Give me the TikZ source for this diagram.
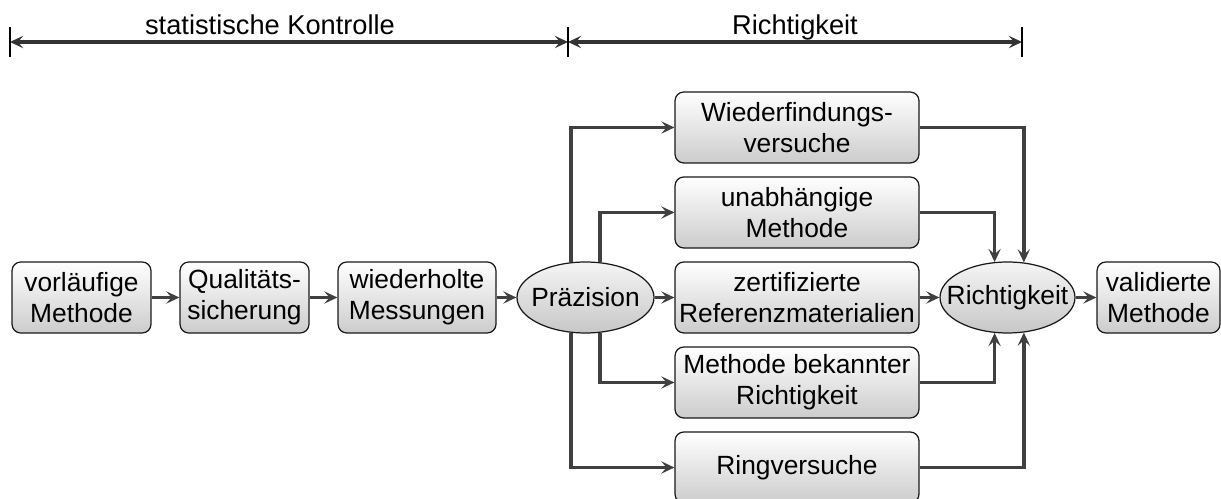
\documentclass[tikz,border=0pt]{standalone}
\usepackage{fontspec}
\setmainfont{Liberation Sans}
\usetikzlibrary{shapes.geometric,arrows.meta}

\begin{document}
\begin{tikzpicture}[x=0.02cm, y=-0.02cm,
	box_node/.style={draw=black!90, line width=0.7pt, rounded corners=5pt, top color=white, bottom color=black!20, align=center, inner sep=1pt, minimum height=1.42cm, font=\fontsize{15}{17.5}\selectfont},
	oval_node/.style={ellipse, draw=black!90, line width=0.7pt, top color=black!4, bottom color=black!22, inner sep=0pt, minimum height=1.42cm, font=\fontsize{15}{17.5}\selectfont},
	conn/.style={draw=black!75, line width=2.1pt, -{Stealth[length=7.5pt,width=7pt,inset=3pt]}},
	dim_line/.style={draw=black!80, line width=2.1pt, {Stealth[length=7.5pt,width=7pt,inset=3pt]}-{Stealth[length=7.5pt,width=7pt,inset=3pt]}},
	head_label/.style={anchor=base, font=\fontsize{15.5}{18}\selectfont}]
	\useasboundingbox (0,0) rectangle (1221,499);

	% top dimension lines
	\coordinate (d0) at (10,42);
	\coordinate (d1) at (568,42);
	\coordinate (d2) at (1022,42);
	\draw[dim_line] (d0) -- (d1);
	\draw[dim_line] (d1) -- (d2);
	\draw[black, line width=0.6pt] (d0) ++(0,-15) -- ++(0,30);
	\draw[black, line width=0.6pt] (d1) ++(0,-15) -- ++(0,30);
	\draw[black, line width=0.6pt] (d2) ++(0,-15) -- ++(0,30);
	\node[head_label] (stat) at (270,35) {statistische Kontrolle};
	\node[head_label] (richtlab) at (795,35) {Richtigkeit};

	% main row
	\node[box_node, minimum width=2.78cm] (vorl) at (81.5,297.5) {vorläufige\\Methode};
	\node[box_node, minimum width=2.58cm] (qual) at (244.5,297.5) {Qualitäts-\\sicherung};
	\node[box_node, minimum width=3.16cm] (mess) at (417,297.5) {wiederholte\\Messungen};
	\node[oval_node, minimum width=2.74cm] (praez) at (585.5,297.5) {\makebox[0pt]{Präzision}};
	\node[oval_node, minimum width=2.70cm] (richt) at (1007.5,297.5) {\makebox[0pt]{Richtigkeit}};
	\node[box_node, minimum width=2.46cm] (valid) at (1158.5,297.5) {validierte\\Methode};

	% five checks
	\node[box_node, minimum width=4.88cm] (wfv) at (797,127.5) {Wiederfindungs-\\versuche};
	\node[box_node, minimum width=4.88cm] (unab) at (797,212.5) {unabhängige\\Methode};
	\node[box_node, minimum width=4.88cm] (zert) at (797,297.5) {zertifizierte\\Referenzmaterialien};
	\node[box_node, minimum width=4.88cm] (bek) at (797,382.5) {Methode bekannter\\Richtigkeit};
	\node[box_node, minimum width=4.88cm] (ring) at (797,467.5) {Ringversuche};

\draw[conn] (vorl) -- (qual);
\draw[conn] (qual) -- (mess);
\draw[conn] (mess) -- (praez);
\draw[conn] (praez) -- (zert);
\draw[conn] (zert) -- (richt);
\draw[conn] (richt) -- (valid);
\draw[conn] (praez.112) |- (wfv.west);
\draw[conn] (praez.68) |- (unab.west);
\draw[conn] (praez.292) |- (bek.west);
\draw[conn] (praez.248) |- (ring.west);
\draw[conn] (wfv.east) -| (richt.65);
\draw[conn] (unab.east) -| (richt.110);
\draw[conn] (bek.east) -| (richt.250);
\draw[conn] (ring.east) -| (richt.295);

\end{tikzpicture}
\end{document}
